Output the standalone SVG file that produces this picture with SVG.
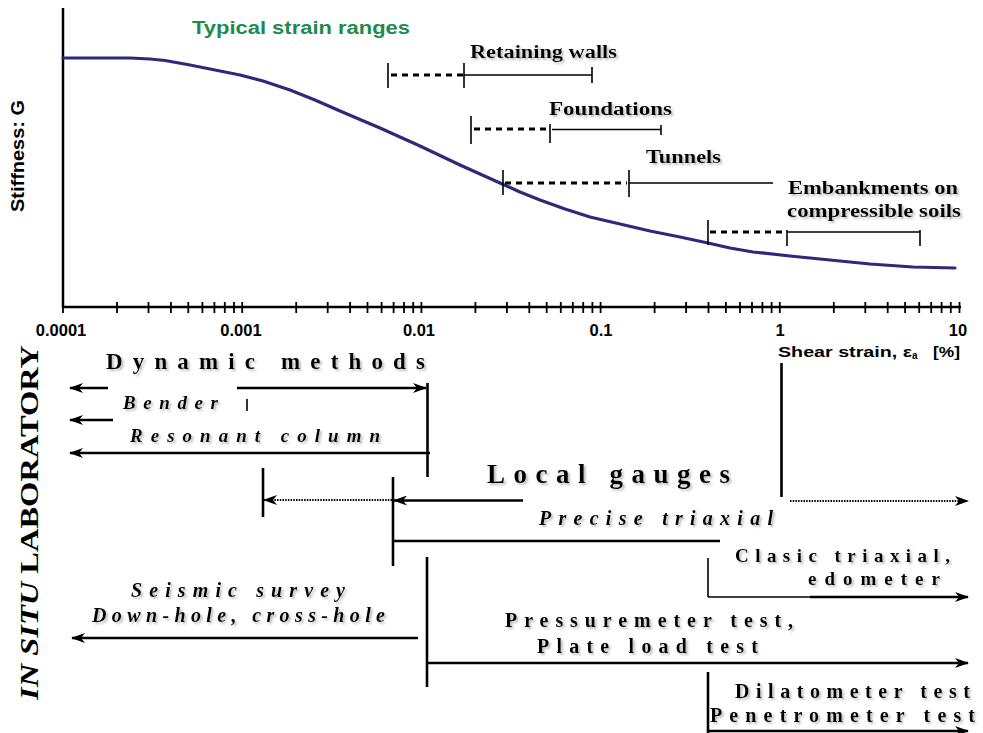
<svg xmlns="http://www.w3.org/2000/svg" width="983" height="733" viewBox="0 0 983 733">
<defs>
<marker id="ah" viewBox="0 0 14 10" refX="13" refY="5" markerWidth="14" markerHeight="10" markerUnits="userSpaceOnUse" orient="auto">
<path d="M0,0 L14,5 L0,10 L4,5 z" fill="#000"/>
</marker>
<filter id="sh" x="-5%" y="-30%" width="115%" height="170%">
<feDropShadow dx="2" dy="2" stdDeviation="1" flood-color="#888" flood-opacity="0.55"/>
</filter>
<style>
.ax{stroke:#000;stroke-width:2.5;fill:none}
.tk{stroke:#000;stroke-width:1.8}
.sans{font-family:"Liberation Sans",Arial,sans-serif;font-weight:bold}
.ser{font-family:"Liberation Serif","Times New Roman",serif;font-weight:bold;fill:#000}
.it{font-style:italic}
.rl{stroke:#000;stroke-width:1.6;fill:none}
.dash{stroke:#000;stroke-width:3;stroke-dasharray:6 5;fill:none}
.ln{stroke:#000;stroke-width:2.6;fill:none}
.thin{stroke:#000;stroke-width:1.6;fill:none}
.dot{stroke:#000;stroke-width:2;stroke-dasharray:1.5 1.2;fill:none}
.arr{marker-end:url(#ah)}
</style>
</defs>

<g id="axes">
<line class="ax" x1="63" y1="8" x2="63" y2="308"/>
<line class="ax" x1="62" y1="307" x2="961" y2="307"/>
<g id="ticks" class="tk">
<line x1="63.0" y1="302" x2="63.0" y2="313"/><line x1="117.0" y1="302" x2="117.0" y2="313"/><line x1="148.5" y1="302" x2="148.5" y2="313"/><line x1="170.9" y1="302" x2="170.9" y2="313"/><line x1="188.3" y1="302" x2="188.3" y2="313"/><line x1="202.4" y1="302" x2="202.4" y2="313"/><line x1="214.4" y1="302" x2="214.4" y2="313"/><line x1="224.8" y1="302" x2="224.8" y2="313"/><line x1="234.0" y1="302" x2="234.0" y2="313"/>
<line x1="242.2" y1="302" x2="242.2" y2="313"/><line x1="296.2" y1="302" x2="296.2" y2="313"/><line x1="327.7" y1="302" x2="327.7" y2="313"/><line x1="350.1" y1="302" x2="350.1" y2="313"/><line x1="367.5" y1="302" x2="367.5" y2="313"/><line x1="381.6" y1="302" x2="381.6" y2="313"/><line x1="393.6" y1="302" x2="393.6" y2="313"/><line x1="404.0" y1="302" x2="404.0" y2="313"/><line x1="413.2" y1="302" x2="413.2" y2="313"/>
<line x1="421.4" y1="302" x2="421.4" y2="313"/><line x1="475.4" y1="302" x2="475.4" y2="313"/><line x1="506.9" y1="302" x2="506.9" y2="313"/><line x1="529.3" y1="302" x2="529.3" y2="313"/><line x1="546.7" y1="302" x2="546.7" y2="313"/><line x1="560.8" y1="302" x2="560.8" y2="313"/><line x1="572.8" y1="302" x2="572.8" y2="313"/><line x1="583.2" y1="302" x2="583.2" y2="313"/><line x1="592.4" y1="302" x2="592.4" y2="313"/>
<line x1="600.6" y1="302" x2="600.6" y2="313"/><line x1="654.6" y1="302" x2="654.6" y2="313"/><line x1="686.1" y1="302" x2="686.1" y2="313"/><line x1="708.5" y1="302" x2="708.5" y2="313"/><line x1="725.9" y1="302" x2="725.9" y2="313"/><line x1="740.0" y1="302" x2="740.0" y2="313"/><line x1="752.0" y1="302" x2="752.0" y2="313"/><line x1="762.4" y1="302" x2="762.4" y2="313"/><line x1="771.6" y1="302" x2="771.6" y2="313"/>
<line x1="779.8" y1="302" x2="779.8" y2="313"/><line x1="833.8" y1="302" x2="833.8" y2="313"/><line x1="865.3" y1="302" x2="865.3" y2="313"/><line x1="887.7" y1="302" x2="887.7" y2="313"/><line x1="905.1" y1="302" x2="905.1" y2="313"/><line x1="919.2" y1="302" x2="919.2" y2="313"/><line x1="931.2" y1="302" x2="931.2" y2="313"/><line x1="941.6" y1="302" x2="941.6" y2="313"/><line x1="950.8" y1="302" x2="950.8" y2="313"/>
<line x1="959.5" y1="302" x2="959.5" y2="313"/>
</g>
<g class="sans" font-size="16.5" text-anchor="middle" fill="#000">
<text x="61" y="336">0.0001</text>
<text x="241" y="336">0.001</text>
<text x="419" y="336">0.01</text>
<text x="601" y="336">0.1</text>
<text x="780" y="336">1</text>
<text x="958" y="336">10</text>
</g>
<text class="sans" font-size="15" x="778" y="357" fill="#000" textLength="134" lengthAdjust="spacingAndGlyphs">Shear strain, ε</text>
<text class="sans" font-size="10" x="912" y="359" fill="#000">a</text>
<text class="sans" font-size="15" x="933" y="357" fill="#000" textLength="27" lengthAdjust="spacingAndGlyphs">[%]</text>
<text class="sans" font-size="19" fill="#000" transform="translate(24,212) rotate(-90)" textLength="112" lengthAdjust="spacingAndGlyphs">Stiffness:  G</text>
<text class="sans" font-size="18" x="192" y="34" fill="#1e8a4c" textLength="218" lengthAdjust="spacingAndGlyphs">Typical strain ranges</text>
</g>

<g id="curve">
<polyline fill="none" stroke="#2b2b7a" stroke-width="3.2" stroke-linejoin="round" stroke-linecap="round" points="63,58 100,58 130,58 150,59 165,60.5 190,65 215,70 240,75 263,81 290,90 315,100 340,111 380,128 420,146 460,165 500,183 520,192 540,200 565,209 590,217 620,224 650,231 680,237 708,243 730,248 753,252 790,256 830,260 870,264 913,267 955,268"/>
</g>

<g id="retaining-walls">
<text class="ser" font-size="18" x="470" y="58" filter="url(#sh)" textLength="147" lengthAdjust="spacingAndGlyphs">Retaining walls</text>
<line class="rl" x1="388" y1="63" x2="388" y2="88"/>
<line class="dash" x1="391" y1="75" x2="463" y2="75"/>
<line class="rl" x1="464" y1="63" x2="464" y2="88"/>
<line class="rl" x1="464" y1="75" x2="592" y2="75"/>
<line class="rl" x1="592" y1="67" x2="592" y2="83"/>
</g>

<g id="foundations">
<text class="ser" font-size="18" x="549" y="115" filter="url(#sh)" textLength="123" lengthAdjust="spacingAndGlyphs">Foundations</text>
<line class="rl" x1="471" y1="116" x2="471" y2="144"/>
<line class="dash" x1="474" y1="129" x2="548" y2="129"/>
<line class="rl" x1="550" y1="124" x2="550" y2="143"/>
<line class="rl" x1="552" y1="129.5" x2="661" y2="129.5"/>
<line class="rl" x1="661" y1="125" x2="661" y2="135"/>
</g>

<g id="tunnels">
<text class="ser" font-size="18" x="646" y="163" filter="url(#sh)" textLength="75" lengthAdjust="spacingAndGlyphs">Tunnels</text>
<line class="rl" x1="503" y1="170" x2="503" y2="195"/>
<line class="dash" x1="505" y1="183" x2="627" y2="183"/>
<line class="rl" x1="629" y1="170" x2="629" y2="197"/>
<line class="rl" x1="629" y1="183" x2="773" y2="183"/>
</g>

<g id="embankments">
<text class="ser" font-size="18" x="788" y="194" filter="url(#sh)" textLength="170" lengthAdjust="spacingAndGlyphs">Embankments on</text>
<text class="ser" font-size="18" x="787" y="217" filter="url(#sh)" textLength="174" lengthAdjust="spacingAndGlyphs">compressible soils</text>
<line class="rl" x1="708" y1="220" x2="708" y2="245"/>
<line class="dash" x1="710" y1="232" x2="786" y2="232"/>
<line class="rl" x1="787" y1="230" x2="787" y2="246"/>
<line class="rl" x1="787" y1="232" x2="920" y2="232"/>
<line class="rl" x1="920" y1="230" x2="920" y2="246"/>
</g>

<g id="side-label">
<text class="ser" font-size="26" transform="translate(38,700) rotate(-90)" textLength="355" lengthAdjust="spacingAndGlyphs"><tspan font-style="italic">IN SITU</tspan> LABORATORY</text>
</g>

<g id="labels" filter="url(#sh)">
<text class="ser" font-size="23" x="106" y="369" textLength="319" lengthAdjust="spacing">Dynamic methods</text>
<text class="ser it" font-size="19" x="123" y="409" textLength="95" lengthAdjust="spacing">Bender</text>
<text class="ser it" font-size="19" x="130" y="442" textLength="250" lengthAdjust="spacing">Resonant column</text>
<text class="ser" font-size="27" x="487" y="483" textLength="243" lengthAdjust="spacing">Local gauges</text>
<text class="ser it" font-size="20" x="539" y="525" textLength="234" lengthAdjust="spacing">Precise triaxial</text>
<text class="ser" font-size="19" x="735" y="562" textLength="215" lengthAdjust="spacing">Clasic triaxial,</text>
<text class="ser" font-size="19" x="808" y="585" textLength="132" lengthAdjust="spacing">edometer</text>
<text class="ser it" font-size="20" x="131" y="597" textLength="214" lengthAdjust="spacing">Seismic survey</text>
<text class="ser it" font-size="20" x="92" y="622" textLength="293" lengthAdjust="spacing">Down-hole, cross-hole</text>
<text class="ser" font-size="20" x="505" y="627" textLength="288" lengthAdjust="spacing">Pressuremeter test,</text>
<text class="ser" font-size="20" x="537" y="653" textLength="221" lengthAdjust="spacing">Plate load test</text>
<text class="ser" font-size="20" x="735" y="698" textLength="235" lengthAdjust="spacing">Dilatometer test</text>
<text class="ser" font-size="20" x="710" y="722" textLength="265" lengthAdjust="spacing">Penetrometer test</text>
</g>

<g id="connectors">
<line class="ln arr" x1="108" y1="388" x2="70" y2="388"/>
<line class="ln arr" x1="237" y1="388" x2="426" y2="388"/>
<line class="ln" x1="427.5" y1="383" x2="427.5" y2="477"/>
<line class="thin" x1="247" y1="399" x2="247" y2="411"/>
<line class="ln arr" x1="113" y1="420" x2="70" y2="420"/>
<line class="ln arr" x1="430" y1="453" x2="70" y2="453"/>
<line class="ln" x1="263" y1="468" x2="263" y2="517"/>
<line class="dot arr" x1="392" y1="500" x2="264" y2="500"/>
<line class="ln" x1="393" y1="477" x2="393" y2="566"/>
<line class="ln arr" x1="523" y1="500.5" x2="394" y2="500.5"/>
<line class="ln" x1="781.5" y1="363" x2="781.5" y2="497"/>
<line class="dot arr" x1="790" y1="501" x2="968" y2="501"/>
<line class="ln" x1="393" y1="541" x2="720" y2="541"/>
<line class="thin" x1="708" y1="558" x2="708" y2="597"/>
<line class="thin" x1="708" y1="597" x2="812" y2="597"/>
<line class="ln arr" x1="810" y1="597" x2="968" y2="597"/>
<line class="ln arr" x1="418" y1="638" x2="72" y2="638"/>
<line class="ln" x1="427" y1="557" x2="427" y2="687"/>
<line class="ln arr" x1="427" y1="663" x2="968" y2="663"/>
<line class="ln" x1="708" y1="672" x2="708" y2="733"/>
<line class="ln arr" x1="708" y1="731" x2="968" y2="731"/>
</g>
</svg>
